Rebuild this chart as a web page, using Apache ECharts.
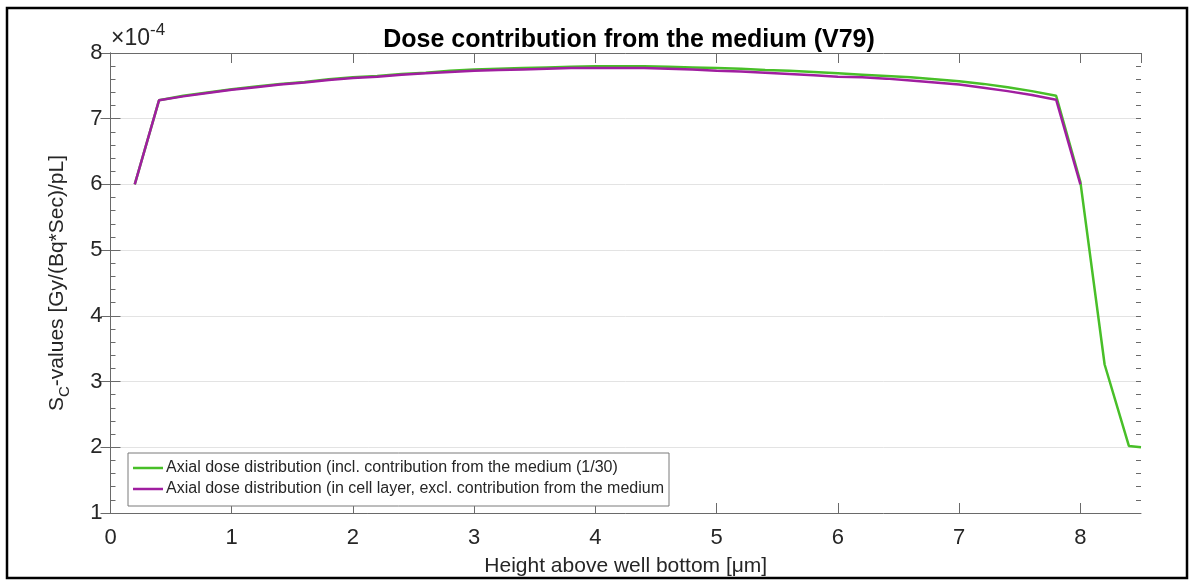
<!DOCTYPE html>
<html>
<head>
<meta charset="utf-8">
<script src="https://cdn.jsdelivr.net/npm/echarts@6/dist/echarts.min.js"></script>
<style>
  html, body { margin: 0; padding: 0; background: #fff; }
  #chart { width: 1194px; height: 582px; }
</style>
</head>
<body>
<div id="chart"></div>
<script>
// Values in units of 1e-4 Gy/(Bq*Sec)/pL (axis shows "x10^-4")
const titleText = 'Dose contribution from the medium (V79)';
const xAxisName = 'Height above well bottom [μm]';
const seriesNames = [
  'Axial dose distribution (incl. contribution from the medium (1/30)',
  'Axial dose distribution (in cell layer, excl. contribution from the medium'
];
const xGreen = [0.2, 0.4, 0.6, 0.8, 1.0, 1.2, 1.4, 1.6, 1.8, 2.0, 2.2, 2.4, 2.6, 2.8, 3.0,
  3.2, 3.4, 3.6, 3.8, 4.0, 4.2, 4.4, 4.6, 4.8, 5.0, 5.2, 5.4, 5.6, 5.8, 6.0,
  6.2, 6.4, 6.6, 6.8, 7.0, 7.2, 7.4, 7.6, 7.8, 8.0, 8.2, 8.4, 8.5];
const yGreen = [6.00, 7.28, 7.35, 7.40, 7.45, 7.49, 7.53, 7.56, 7.60, 7.63, 7.65, 7.68, 7.70, 7.73, 7.75,
  7.76, 7.77, 7.78, 7.79, 7.80, 7.80, 7.80, 7.79, 7.78, 7.77, 7.76, 7.74, 7.73, 7.71, 7.69,
  7.67, 7.65, 7.63, 7.60, 7.57, 7.53, 7.48, 7.42, 7.35, 6.04, 3.26, 2.02, 2.00];
const xPurple = [0.2, 0.4, 0.6, 0.8, 1.0, 1.2, 1.4, 1.6, 1.8, 2.0, 2.2, 2.4, 2.6, 2.8, 3.0,
  3.2, 3.4, 3.6, 3.8, 4.0, 4.2, 4.4, 4.6, 4.8, 5.0, 5.2, 5.4, 5.6, 5.8, 6.0,
  6.2, 6.4, 6.6, 6.8, 7.0, 7.2, 7.4, 7.6, 7.8, 8.0];
const yPurple = [6.00, 7.28, 7.34, 7.39, 7.44, 7.48, 7.52, 7.55, 7.59, 7.62, 7.64, 7.67, 7.69, 7.71, 7.73,
  7.74, 7.75, 7.76, 7.77, 7.77, 7.77, 7.77, 7.76, 7.75, 7.73, 7.72, 7.70, 7.68, 7.66, 7.64,
  7.63, 7.61, 7.58, 7.55, 7.52, 7.47, 7.42, 7.36, 7.29, 6.00];

const FONT = '"Liberation Sans", Arial, Helvetica, sans-serif';
const AXIS_COLOR = '#6a6a6a';
const TEXT_COLOR = '#262626';

const chart = echarts.init(document.getElementById('chart'), null, { renderer: 'canvas' });

const commonY = {
  type: 'value', min: 1, max: 8, interval: 1,
  axisLine: { show: true, lineStyle: { color: AXIS_COLOR, width: 1 } },
  axisTick: { show: true, inside: true, length: 10, lineStyle: { color: AXIS_COLOR } },
  splitLine: { show: false },
  axisLabel: { show: false }
};
const minorY = {
  type: 'value', min: 1, max: 8, interval: 0.2,
  axisLine: { show: false },
  axisTick: { show: true, inside: true, length: 5, lineStyle: { color: AXIS_COLOR } },
  splitLine: { show: false },
  axisLabel: { show: false }
};
const commonX = {
  type: 'value', min: 0, max: 8.5, interval: 1,
  axisLine: { show: true, onZero: false, lineStyle: { color: AXIS_COLOR, width: 1 } },
  axisTick: { show: true, inside: true, length: 10, lineStyle: { color: AXIS_COLOR } },
  splitLine: { show: false }
};

chart.setOption({
  animation: false,
  backgroundColor: '#ffffff',
  textStyle: { fontFamily: FONT },
  title: {
    text: titleText,
    left: 624, top: 23, textAlign: 'center',
    textStyle: { fontFamily: FONT, fontSize: 25, fontWeight: 'bold', color: '#000' }
  },
  grid: { left: 110.5, right: 53, top: 53, bottom: 65, containLabel: false },
  legend: {
    orient: 'vertical',
    left: 128, top: 453,
    padding: [6, 5, 8, 5],
    icon: 'rect',
    itemWidth: 30, itemHeight: 2.5, itemGap: 3,
    backgroundColor: '#fff',
    borderColor: '#7a7a7a', borderWidth: 1, borderRadius: 0,
    textStyle: { fontFamily: FONT, fontSize: 16, lineHeight: 18, color: TEXT_COLOR, padding: [0, 0, 0, -2] },
    data: seriesNames
  },
  xAxis: [
    Object.assign({}, commonX, {
      position: 'bottom',
      name: xAxisName, nameLocation: 'middle', nameGap: 43,
      nameTextStyle: { fontFamily: FONT, fontSize: 21, color: TEXT_COLOR },
      axisLabel: { show: true, margin: 14, fontSize: 22, color: TEXT_COLOR, fontFamily: FONT,
        showMaxLabel: false,
        formatter: v => (Math.abs(v - Math.round(v)) < 1e-9 ? String(Math.round(v)) : '') }
    }),
    Object.assign({}, commonX, {
      position: 'top',
      axisLabel: { show: false }
    })
  ],
  yAxis: [
    Object.assign({}, commonY, {
      position: 'left',
      name: '{a|S}{sub|C}{a|-values [Gy/(Bq*Sec)/pL]}',
      nameLocation: 'middle', nameGap: 38, nameRotate: 90,
      nameTextStyle: {
        fontFamily: FONT, color: TEXT_COLOR,
        rich: {
          a: { fontFamily: FONT, fontSize: 21, color: TEXT_COLOR, lineHeight: 30, verticalAlign: 'middle' },
          sub: { fontFamily: FONT, fontSize: 15, color: TEXT_COLOR, lineHeight: 14, verticalAlign: 'bottom' }
        }
      },
      axisLabel: { show: true, margin: 8, fontSize: 22, color: TEXT_COLOR, fontFamily: FONT },
      splitLine: { show: true, lineStyle: { color: '#e3e3e3', width: 1 } }
    }),
    Object.assign({}, commonY, { position: 'right' }),
    Object.assign({}, minorY, { position: 'left' }),
    Object.assign({}, minorY, { position: 'right' })
  ],
  graphic: [
    {
      type: 'rect', silent: true, z: 100,
      shape: { x: 7, y: 8, width: 1180, height: 570 },
      style: { fill: 'none', stroke: '#000', lineWidth: 2.5 }
    },
    {
      type: 'text', silent: true, z: 100, left: 111, top: 22,
      style: {
        text: '{a|×10}{s|-4}',
        rich: {
          a: { fontFamily: FONT, fontSize: 23, fill: TEXT_COLOR, lineHeight: 28, verticalAlign: 'bottom' },
          s: { fontFamily: FONT, fontSize: 17, fill: TEXT_COLOR, lineHeight: 28, verticalAlign: 'top' }
        }
      }
    }
  ],
  series: [
    {
      name: seriesNames[0], type: 'line', xAxisIndex: 0, yAxisIndex: 0,
      data: xGreen.map((x, i) => [x, yGreen[i]]),
      showSymbol: false, symbol: 'none',
      lineStyle: { color: '#48bf28', width: 2.5 }, itemStyle: { color: '#48bf28' },
      z: 2
    },
    {
      name: seriesNames[1], type: 'line', xAxisIndex: 0, yAxisIndex: 0,
      data: xPurple.map((x, i) => [x, yPurple[i]]),
      showSymbol: false, symbol: 'none',
      lineStyle: { color: '#a01ea0', width: 2.5 }, itemStyle: { color: '#a01ea0' },
      z: 3
    }
  ]
});
</script>
</body>
</html>
